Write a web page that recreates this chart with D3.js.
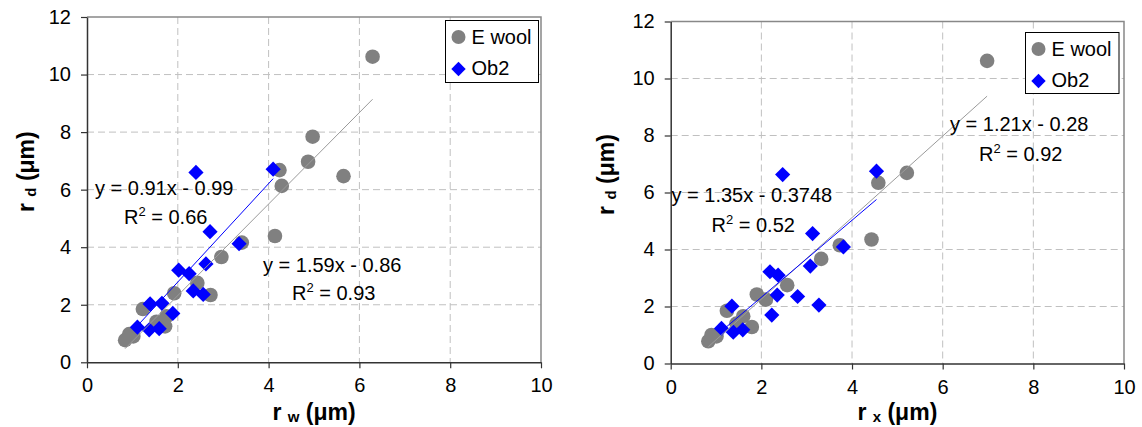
<!DOCTYPE html>
<html>
<head>
<meta charset="utf-8">
<script src="https://cdn.jsdelivr.net/npm/d3@7/dist/d3.min.js"></script>
<style>
  html, body { margin: 0; padding: 0; background: #fff; }
  svg { display: block; font-family: "Liberation Sans", Arial, sans-serif; }
</style>
</head>
<body>
<svg id="chart" width="1142" height="427"></svg>
<script>
// ---- data -------------------------------------------------------------
const xTicks = [0, 2, 4, 6, 8, 10];
const yTicks = [0, 2, 4, 6, 8, 10, 12];
const seriesNames = ["E wool", "Ob2"];

// r_w vs r_d
const ewoolW = [
  [6.29, 10.62], [4.97, 7.84], [4.87, 6.97], [5.65, 6.47], [4.24, 6.68],
  [4.29, 6.13], [4.14, 4.39], [3.41, 4.16], [2.96, 3.66], [2.43, 2.76],
  [2.72, 2.34], [1.92, 2.40], [1.23, 1.85], [1.75, 1.60], [1.72, 1.25],
  [1.53, 1.41], [0.93, 0.98], [0.84, 0.77], [1.02, 0.90]
];
const ob2W = [
  [2.40, 6.60], [4.10, 6.71], [2.71, 4.54], [3.35, 4.12], [2.62, 3.42],
  [2.02, 3.20], [2.25, 3.08], [2.34, 2.48], [2.56, 2.36], [1.89, 1.70],
  [1.39, 2.03], [1.65, 2.05], [1.11, 1.22], [1.37, 1.13], [1.59, 1.17]
];

// r_x vs r_d
const ewoolX = [
  [6.98, 10.62], [5.21, 6.69], [4.58, 6.34], [4.43, 4.35], [3.73, 4.15],
  [3.32, 3.67], [2.57, 2.75], [2.10, 2.24], [1.90, 2.42], [1.24, 1.85],
  [1.60, 1.66], [1.79, 1.28], [1.45, 1.40], [1.01, 0.95], [0.90, 1.00],
  [0.83, 0.78]
];
const ob2X = [
  [2.47, 6.63], [4.54, 6.75], [3.13, 4.56], [3.81, 4.09], [3.08, 3.42],
  [2.19, 3.22], [2.37, 3.10], [2.35, 2.40], [2.80, 2.35], [3.27, 2.05],
  [2.23, 1.70], [1.35, 2.01], [1.12, 1.23], [1.38, 1.10], [1.59, 1.18]
];

// trend lines [slope, intercept] for E wool, Ob2
const trendW = [[1.59, -0.86], [1.71, -0.63]];
const trendX = [[1.43, -0.60], [1.35, -0.3748]];

// trend line annotations
const eqW = [["y = 1.59x - 0.86", "0.93"], ["y = 0.91x - 0.99", "0.66"]];
const eqX = [["y = 1.21x - 0.28", "0.92"], ["y = 1.35x - 0.3748", "0.52"]];

// ---- drawing ----------------------------------------------------------
const svg = d3.select("#chart");
const GREY = "#808080", BLUE = "#0000ff";

function diamond(r) {
  return `M0,${-r}L${r},0L0,${r}L${-r},0Z`;
}

function drawPanel(p) {
  const x = d3.scaleLinear().domain([0, 10]).range([p.left, p.right]);
  const y = d3.scaleLinear().domain([0, 12]).range([p.bottom, p.top]);
  const g = svg.append("g");

  // dashed grid
  g.append("g").selectAll("line").data(xTicks.slice(1, -1)).join("line")
    .attr("x1", d => x(d)).attr("x2", d => x(d))
    .attr("y1", p.top).attr("y2", p.bottom)
    .attr("stroke", "#c0c0c0").attr("stroke-width", 1).attr("stroke-dasharray", "7,4");
  g.append("g").selectAll("line").data(yTicks.slice(1, -1)).join("line")
    .attr("x1", p.left).attr("x2", p.right)
    .attr("y1", d => y(d)).attr("y2", d => y(d))
    .attr("stroke", "#c0c0c0").attr("stroke-width", 1).attr("stroke-dasharray", "7,4");

  // frame (top / right)
  g.append("path")
    .attr("d", `M${p.left},${p.top}H${p.right}V${p.bottom}`)
    .attr("fill", "none").attr("stroke", "#888").attr("stroke-width", 1.5);

  // axes
  const ax = g.append("g").attr("transform", `translate(0,${p.bottom})`)
    .call(d3.axisBottom(x).tickValues(xTicks).tickSize(6).tickPadding(10).tickSizeOuter(0));
  const ay = g.append("g").attr("transform", `translate(${p.left},0)`)
    .call(d3.axisLeft(y).tickValues(yTicks).tickSize(6).tickPadding(10).tickSizeOuter(0));
  [ax, ay].forEach(a => {
    a.select(".domain").attr("stroke", "#333").attr("stroke-width", 1.5);
    a.selectAll(".tick line").attr("stroke", "#333").attr("stroke-width", 1.2);
    a.selectAll("text").attr("font-size", 20).attr("fill", "#000")
      .attr("font-family", "Liberation Sans, Arial, sans-serif");
  });

  // markers
  g.append("g").selectAll("circle").data(p.ewool).join("circle")
    .attr("cx", d => x(d[0])).attr("cy", d => y(d[1])).attr("r", 7.3)
    .attr("fill", GREY);
  g.append("g").selectAll("path").data(p.ob2).join("path")
    .attr("transform", d => `translate(${x(d[0])},${y(d[1])})`)
    .attr("d", diamond(7.6)).attr("fill", BLUE);

  // trend lines over the data range of each series
  [[p.ewool, "#9a9a9a"], [p.ob2, BLUE]].forEach(([pts, col], i) => {
    const [m, b] = p.trend[i];
    const ext = d3.extent(pts, d => d[0]);
    g.append("line")
      .attr("x1", x(ext[0])).attr("y1", y(m * ext[0] + b))
      .attr("x2", x(ext[1])).attr("y2", y(m * ext[1] + b))
      .attr("stroke", col).attr("stroke-width", 1);
  });

  // equations
  p.eq.forEach((e, i) => {
    const pos = p.eqPos[i];
    g.append("text").attr("x", pos[0]).attr("y", pos[1])
      .attr("font-size", 20).text(e[0]);
    const r2 = g.append("text").attr("x", pos[2]).attr("y", pos[3]).attr("font-size", 20);
    r2.append("tspan").text("R");
    r2.append("tspan").attr("font-size", 13).attr("dy", -8).text("2");
    r2.append("tspan").attr("dy", 8).text(" = " + e[1]);
  });

  // legend
  const L = p.legend;
  g.append("rect").attr("x", L[0]).attr("y", L[1]).attr("width", L[2]).attr("height", L[3])
    .attr("fill", "#fff").attr("stroke", "#000").attr("stroke-width", 1);
  g.append("circle").attr("cx", L[0] + 13).attr("cy", L[1] + 16.5).attr("r", 7).attr("fill", GREY);
  g.append("path").attr("transform", `translate(${L[0] + 13},${L[1] + 48.5})`)
    .attr("d", diamond(7.2)).attr("fill", BLUE);
  seriesNames.forEach((s, i) => {
    g.append("text").attr("x", L[0] + 26).attr("y", L[1] + 23.5 + i * 31)
      .attr("font-size", 20).text(s);
  });

  // axis titles
  const xt = g.append("text")
    .attr("x", (p.left + p.right) / 2).attr("y", 420)
    .attr("text-anchor", "middle").attr("font-weight", "bold").attr("font-size", 23);
  xt.append("tspan").text("r ");
  xt.append("tspan").attr("font-size", 15).attr("dy", 2).text(p.sub);
  xt.append("tspan").attr("dy", -2).text(" (μm)");

  const yt = g.append("text")
    .attr("transform", `translate(${p.ytx},${(p.top + p.bottom) / 2 - 18}) rotate(-90)`)
    .attr("text-anchor", "middle").attr("font-weight", "bold").attr("font-size", 23);
  yt.append("tspan").text("r ");
  yt.append("tspan").attr("font-size", 15).attr("dy", 2).text("d");
  yt.append("tspan").attr("dy", -2).text(" (μm)");
}

drawPanel({
  left: 87, right: 541, top: 17, bottom: 362.3,
  ewool: ewoolW, ob2: ob2W, trend: trendW, eq: eqW, sub: "w",
  eqPos: [[263, 272, 292, 300], [95, 194.5, 124, 224]],
  legend: [445.5, 20.5, 93, 62],
  ytx: 34
});

drawPanel({
  left: 670.7, right: 1124, top: 21.5, bottom: 363.5,
  ewool: ewoolX, ob2: ob2X, trend: trendX, eq: eqX, sub: "x",
  eqPos: [[950, 131, 979, 161], [671.5, 202, 711.5, 232]],
  legend: [1025.5, 32.5, 93.5, 61],
  ytx: 614
});
</script>
</body>
</html>
